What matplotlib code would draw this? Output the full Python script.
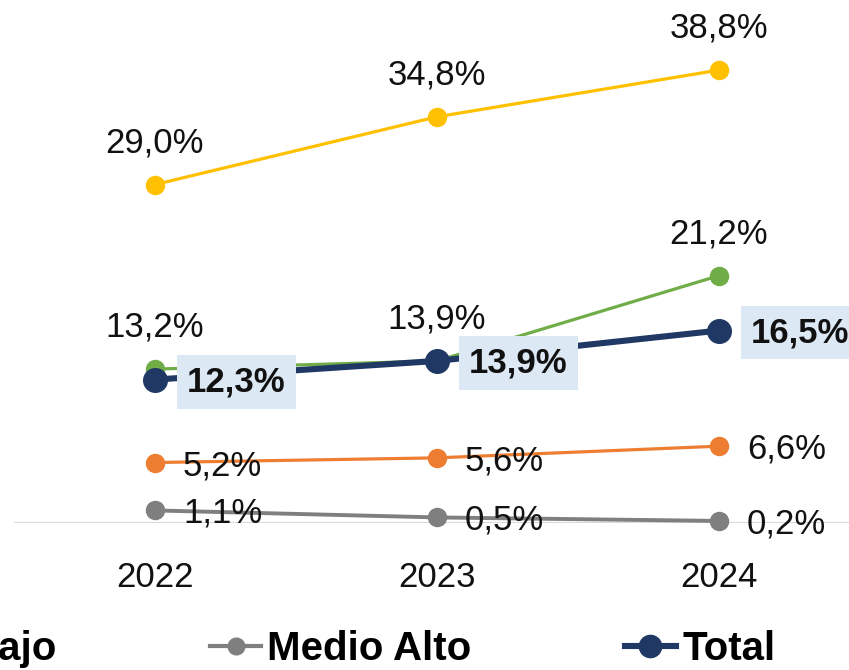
import matplotlib
matplotlib.use("Agg")
import matplotlib.pyplot as plt
from matplotlib.lines import Line2D

plt.rcParams["font.family"] = ["Liberation Sans", "DejaVu Sans"]

# ── Datos ────────────────────────────────────────────────────────────────────
anos = ["2022", "2023", "2024"]
alto = [29.0, 34.8, 38.8]
medio = [13.2, 13.9, 21.2]
bajo = [5.2, 5.6, 6.6]
medio_alto = [1.1, 0.5, 0.2]
total = [12.3, 13.9, 16.5]

AMARILLO = "#FFC000"
VERDE = "#70AD47"
NARANJA = "#ED7D31"
GRIS = "#7F7F7F"
AZUL = "#203864"
CAJA = "#DDE8F5"


def fmt(v):
    return f"{v:.1f}%".replace(".", ",")


fig = plt.figure(figsize=(8.49, 6.70), dpi=100)
# el gráfico original está recortado: el eje sigue más allá del borde derecho
ax = fig.add_axes([14 / 849, 0.219, 846 / 849, 0.781])
x = list(range(len(anos)))

ax.axhline(0, color="#D9D9D9", lw=1.5, zorder=1)

# (valores, color, grosor, tamaño marcador, posición de etiqueta)
series = [
    (alto, AMARILLO, 2.3, 13, "arriba"),
    (medio, VERDE, 2.3, 13, "arriba"),
    (bajo, NARANJA, 2.3, 13, "derecha"),
    (medio_alto, GRIS, 2.8, 13, "derecha"),
]

for vals, color, lw, ms, pos in series:
    ax.plot(x, vals, color=color, lw=lw, marker="o", ms=ms, zorder=3, clip_on=False)
    for xi, v in zip(x, vals):
        if pos == "arriba":
            ax.annotate(fmt(v), (xi, v), xytext=(0, 42), textcoords="offset pixels",
                        ha="center", va="center", fontsize=25, color="#111111", zorder=6)
        else:
            ax.annotate(fmt(v), (xi, v), xytext=(28, -3), textcoords="offset pixels",
                        ha="left", va="center", fontsize=25, color="#111111", zorder=6)

ax.plot(x, total, color=AZUL, lw=4.4, marker="o", ms=17, zorder=4, clip_on=False)
for xi, v in zip(x, total):
    ax.annotate(fmt(v), (xi, v), xytext=(32, -2), textcoords="offset pixels",
                ha="left", va="center", fontsize=25, fontweight="bold", color="#111111",
                zorder=7,
                bbox=dict(boxstyle="square,pad=0.3", facecolor=CAJA, edgecolor="none"))

ax.set_xlim(-0.5, 2.5)
ax.set_ylim(0, 44.8)
ax.set_xticks(x)
ax.set_xticklabels(anos, fontsize=25, color="#111111")
ax.tick_params(axis="x", length=0, pad=27)
ax.set_yticks([])
for s in ax.spines.values():
    s.set_visible(False)

handles = [
    Line2D([], [], color=NARANJA, lw=3, marker="o", ms=12),
    Line2D([], [], color=GRIS, lw=3, marker="o", ms=12),
    Line2D([], [], color=AZUL, lw=4.4, marker="o", ms=16),
]
fig.legend(handles, ["Bajo", "Medio Alto", "Total"], loc="center left",
           bbox_to_anchor=(-0.104, 0.031), ncol=3, frameon=False,
           prop={"size": 29, "weight": "bold"}, handlelength=1.28,
           handletextpad=0.15, columnspacing=3.8, borderpad=0, borderaxespad=0)

fig.savefig("out.png", dpi=100, facecolor="white")
